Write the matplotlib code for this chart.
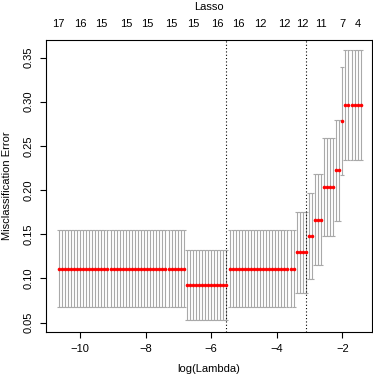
import numpy as np
import matplotlib
matplotlib.use("Agg")
import matplotlib.pyplot as plt

plt.rcParams['font.family'] = ['Liberation Sans', 'DejaVu Sans']

# log(lambda) grid, largest lambda first (100 values, as glmnet)
log_lambda = np.linspace(-1.44, -10.65, 100)

# cross-validated misclassification error, runs of equal value (largest lambda first)
run_err = [16/54, 15/54, 12/54, 11/54, 9/54, 8/54, 7/54, 6/54, 5/54, 6/54]
run_se = [0.0624, 0.061, 0.0574, 0.0552, 0.0513, 0.0485, 0.046, 0.0433, 0.040, 0.0433]
run_len = [6, 1, 2, 4, 3, 2, 4, 22, 14, 42]

# number of non-zero coefficients shown on the top axis
nz_index = [99, 92, 85, 77, 70, 62, 55, 47, 40, 33, 25, 19, 13, 6, 1]
nz_labels = ["17", "16", "15", "15", "15", "15", "15", "16", "16", "12", "12", "12", "11", "7", "4"]

# lambda.min and lambda.1se positions (index in grid)
idx_min = 44
idx_1se = 18

cvm = np.repeat(run_err, run_len)
cvsd = np.repeat(run_se, run_len)
cvup = cvm + cvsd
cvlo = cvm - cvsd

fig = plt.figure(figsize=(3.73, 3.75), dpi=100)
ax = fig.add_axes([46/373, 1 - 331.7/375, (371.7 - 46)/373, (331.7 - 40)/375])

# error bars
barw = 0.06
ax.vlines(log_lambda, cvlo, cvup, color='darkgrey', lw=0.8)
ax.hlines(cvup, log_lambda - barw, log_lambda + barw, color='darkgrey', lw=0.8)
ax.hlines(cvlo, log_lambda - barw, log_lambda + barw, color='darkgrey', lw=0.8)

# mean error points
ax.plot(log_lambda, cvm, 'o', color='red', markersize=2.6, markeredgewidth=0, zorder=3)

# selected lambdas
ax.axvline(log_lambda[idx_min], color='black', lw=0.8, ls=(0, (1, 2)))
ax.axvline(log_lambda[idx_1se], color='black', lw=0.8, ls=(0, (1, 2)))

ax.set_xlim(-11.037, -1.104)
ax.set_ylim(0.0398, 0.3698)
ax.set_xticks([-10, -8, -6, -4, -2])
ax.set_yticks([0.05, 0.10, 0.15, 0.20, 0.25, 0.30, 0.35])
ax.set_yticklabels(["0.05", "0.10", "0.15", "0.20", "0.25", "0.30", "0.35"],
                   rotation=90, va='center')
ax.tick_params(axis='both', direction='out', length=4.3, width=0.8, labelsize=8, pad=4.7)
for s in ax.spines.values():
    s.set_linewidth(0.8)

# top axis with number of non-zero coefficients
top = ax.secondary_xaxis('top')
top.set_xticks(log_lambda[nz_index])
top.set_xticklabels(nz_labels)
top.tick_params(length=0, labelsize=8, pad=8)
top.spines['top'].set_visible(False)

fig.text((46 + 371.7) / 2 / 373, 1 - 6.5/375, "Lasso", ha='center', va='center', fontsize=8)
fig.text((46 + 371.7) / 2 / 373, 1 - 369/375, "log(Lambda)", ha='center', va='center', fontsize=8)
fig.text(7.5/373, 1 - 185.8/375, "Misclassification Error", rotation=90,
         ha='center', va='center', fontsize=8)

fig.savefig("out.png", dpi=100)
